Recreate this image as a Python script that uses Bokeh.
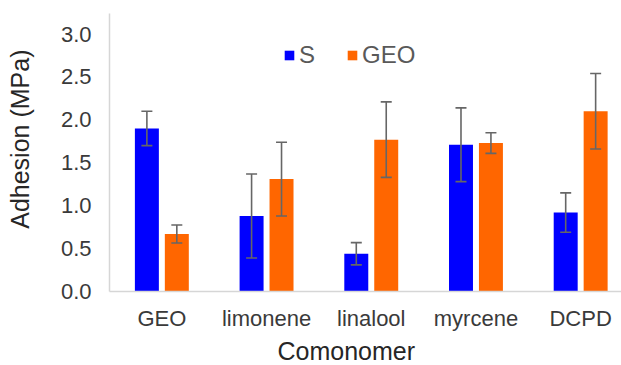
import numpy as np
from bokeh.plotting import figure
from bokeh.layouts import row
from bokeh.models import (ColumnDataSource, Range1d, FixedTicker, NumeralTickFormatter,
                          Whisker, TeeHead, Legend, LegendItem, Title, Label)
from bokeh.embed import file_html
from bokeh.resources import INLINE

categories = ["GEO", "limonene", "linalool", "myrcene", "DCPD"]
series_names = ["S", "GEO"]
s_values = [1.90, 0.88, 0.44, 1.71, 0.92]
s_errors = [0.20, 0.49, 0.13, 0.43, 0.23]
geo_values = [0.67, 1.31, 1.77, 1.73, 2.10]
geo_errors = [0.105, 0.43, 0.44, 0.12, 0.44]
y_ticks = [0.0, 0.5, 1.0, 1.5, 2.0, 2.5, 3.0]

FONT = "Liberation Sans"
BLUE = "#0000FF"
ORANGE = "#FF6600"
ERR = "#666666"
AXIS = "#d6d6d6"

W, H = 621, 365
LW = 40  # width of the strip holding the y-axis title

# strip with the y-axis title
t = figure(width=LW, height=H, output_backend="svg", toolbar_location=None,
           x_range=Range1d(0, LW), y_range=Range1d(0, H),
           x_axis_location=None, y_axis_location=None,
           min_border=0, min_border_left=0, min_border_right=0,
           min_border_top=0, min_border_bottom=0)
t.outline_line_color = None
t.xgrid.visible = False
t.ygrid.visible = False
t.add_layout(Label(x=19.5, y=H - 165, text="Adhesion (MPa)", angle=np.pi / 2,
                   text_align="center", text_baseline="middle",
                   text_font=FONT, text_font_size="25px", text_color="#262626"))

p = figure(width=W - LW, height=H, output_backend="svg", toolbar_location=None,
           x_range=Range1d(-0.5, 4.39), y_range=Range1d(0, 3.24),
           min_border_left=109 - LW, min_border_right=0, min_border_top=13,
           min_border_bottom=74)
p.outline_line_color = None
p.xgrid.visible = False
p.ygrid.visible = False
p.background_fill_color = "white"
p.border_fill_color = "white"

idx = np.arange(len(categories))
off = 0.143
bw = 0.229

src_s = ColumnDataSource(dict(x=idx - off, top=s_values,
                              upper=np.array(s_values) + np.array(s_errors),
                              lower=np.array(s_values) - np.array(s_errors)))
src_g = ColumnDataSource(dict(x=idx + off, top=geo_values,
                              upper=np.array(geo_values) + np.array(geo_errors),
                              lower=np.array(geo_values) - np.array(geo_errors)))

r_s = p.vbar(x="x", top="top", width=bw, source=src_s, fill_color=BLUE, line_color=None)
r_g = p.vbar(x="x", top="top", width=bw, source=src_g, fill_color=ORANGE, line_color=None)

for src in (src_s, src_g):
    w = Whisker(base="x", upper="upper", lower="lower", source=src, level="overlay",
                line_color=ERR, line_width=1.6,
                upper_head=TeeHead(size=11, line_color=ERR, line_width=1.6),
                lower_head=TeeHead(size=11, line_color=ERR, line_width=1.6))
    p.add_layout(w)

# x axis
p.xaxis.ticker = FixedTicker(ticks=list(idx))
p.xaxis.major_label_overrides = {int(i): c for i, c in zip(idx, categories)}
p.xaxis.major_tick_line_color = None
p.xaxis.major_tick_out = 0
p.xaxis.major_tick_in = 0
p.xaxis.minor_tick_line_color = None
p.xaxis.axis_line_color = AXIS
p.xaxis.axis_line_width = 1.5
p.xaxis.major_label_text_font = FONT
p.xaxis.major_label_text_font_size = "22px"
p.xaxis.major_label_text_color = "#3a3a3a"
p.xaxis.major_label_standoff = 14

# y axis
p.yaxis.ticker = FixedTicker(ticks=y_ticks)
p.yaxis.formatter = NumeralTickFormatter(format="0.0")
p.yaxis.major_tick_line_color = None
p.yaxis.major_tick_out = 0
p.yaxis.major_tick_in = 0
p.yaxis.minor_tick_line_color = None
p.yaxis.axis_line_color = AXIS
p.yaxis.axis_line_width = 1.5
p.yaxis.major_label_text_font = FONT
p.yaxis.major_label_text_font_size = "22px"
p.yaxis.major_label_text_color = "#3a3a3a"
p.yaxis.major_label_standoff = 18

# x-axis title
p.add_layout(Title(text="Comonomer", align="left", offset=168, standoff=2,
                   vertical_align="bottom", text_font=FONT, text_font_size="25px",
                   text_font_style="normal", text_color="#262626"), "below")

legend = Legend(items=[LegendItem(label=series_names[0], renderers=[r_s]),
                       LegendItem(label=series_names[1], renderers=[r_g])],
                orientation="horizontal", location=(174, 222),
                glyph_width=12, glyph_height=12, label_standoff=4, spacing=31,
                label_width=0, padding=0, margin=0, border_line_color=None,
                background_fill_alpha=0,
                label_text_font=FONT, label_text_font_size="24px", label_text_color="#595959")
p.add_layout(legend, "center")

layout = row(t, p, spacing=0)
open("out.html", "w").write(file_html(layout, INLINE))
